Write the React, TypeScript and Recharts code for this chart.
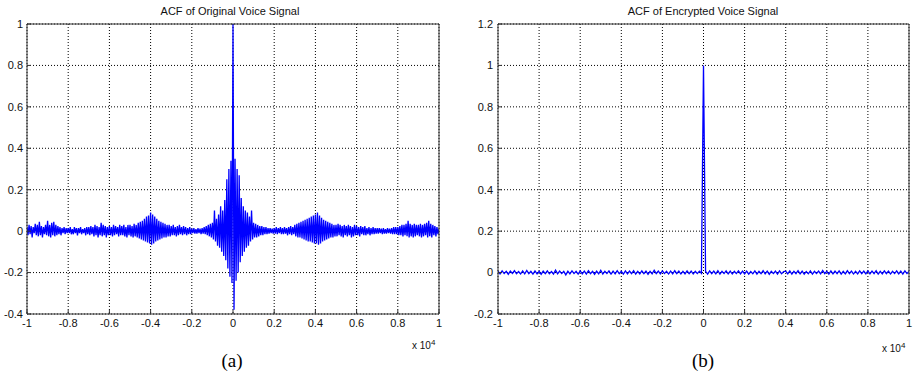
import { LineChart, Line, XAxis, YAxis, CartesianGrid } from "recharts";

// lag axis is in samples, labelled in units of 1e4
const lagTicks = [-10000, -8000, -6000, -4000, -2000, 0, 2000, 4000, 6000, 8000, 10000];
const leftYTicks = [-0.4, -0.2, 0, 0.2, 0.4, 0.6, 0.8, 1];
const rightYTicks = [-0.2, 0, 0.2, 0.4, 0.6, 0.8, 1, 1.2];

// ACF of original voice, one value every 50 lags from -10000 to 10000
const originalAcf = [
  0.02, -0.02, 0.03, -0.015, 0.025, -0.03, 0.02, -0.01, 0.035, -0.02, 0.03, -0.025, 0.045, -0.02, 0.025, -0.03, 0.02, -0.015, 0.03, -0.02,
  0.05, -0.025, 0.03, -0.03, 0.04, -0.02, 0.045, -0.025, 0.03, -0.02, 0.025, -0.015, 0.02, -0.02, 0.015, -0.01, 0.02, -0.015, 0.015, -0.01,
  0.015, -0.01, 0.02, -0.015, 0.01, -0.015, 0.02, -0.01, 0.015, -0.02, 0.015, -0.01, 0.02, -0.015, 0.01, -0.01, 0.015, -0.02, 0.02, -0.015,
  0.02, -0.02, 0.025, -0.015, 0.02, -0.025, 0.03, -0.02, 0.025, -0.03, 0.02, -0.02, 0.04, -0.025, 0.03, -0.02, 0.025, -0.03, 0.02, -0.02,
  0.025, -0.02, 0.02, -0.025, 0.03, -0.02, 0.025, -0.015, 0.02, -0.025, 0.03, -0.02, 0.025, -0.02, 0.03, -0.025, 0.02, -0.03, 0.03, -0.02,
  0.03, -0.025, 0.025, -0.03, 0.035, -0.025, 0.03, -0.03, 0.04, -0.035, 0.045, -0.04, 0.05, -0.045, 0.06, -0.05, 0.07, -0.055, 0.075, -0.06,
  0.09, -0.065, 0.08, -0.06, 0.07, -0.05, 0.06, -0.045, 0.05, -0.04, 0.045, -0.035, 0.04, -0.03, 0.035, -0.03, 0.03, -0.025, 0.03, -0.025,
  0.025, -0.02, 0.03, -0.02, 0.02, -0.025, 0.025, -0.02, 0.03, -0.015, 0.02, -0.02, 0.025, -0.015, 0.02, -0.02, 0.015, -0.015, 0.02, -0.015,
  0.012, -0.01, 0.015, -0.012, 0.01, -0.012, 0.015, -0.01, 0.012, -0.015, 0.015, -0.012, 0.02, -0.015, 0.025, -0.02, 0.03, -0.025, 0.035, -0.03,
  0.04, -0.04, 0.1, -0.05, 0.06, -0.07, 0.08, -0.08, 0.12, -0.1, 0.1, -0.12, 0.15, -0.14, 0.25, -0.18, 0.3, -0.22, 0.34, -0.25,
  1.0, -0.38, 0.35, -0.24, 0.3, -0.2, 0.27, -0.15, 0.16, -0.12, 0.12, -0.1, 0.1, -0.08, 0.09, -0.07, 0.07, -0.05, 0.1, -0.04,
  0.04, -0.03, 0.035, -0.03, 0.03, -0.025, 0.025, -0.02, 0.025, -0.02, 0.02, -0.015, 0.02, -0.015, 0.015, -0.012, 0.015, -0.01, 0.012, -0.012,
  0.015, -0.012, 0.02, -0.015, 0.015, -0.01, 0.02, -0.015, 0.015, -0.015, 0.02, -0.012, 0.015, -0.02, 0.02, -0.015, 0.025, -0.02, 0.02, -0.015,
  0.03, -0.025, 0.035, -0.03, 0.04, -0.03, 0.045, -0.035, 0.05, -0.04, 0.055, -0.045, 0.06, -0.05, 0.065, -0.05, 0.07, -0.055, 0.075, -0.06,
  0.08, -0.06, 0.09, -0.065, 0.075, -0.06, 0.065, -0.05, 0.055, -0.045, 0.05, -0.04, 0.045, -0.035, 0.04, -0.03, 0.035, -0.03, 0.03, -0.025,
  0.03, -0.025, 0.035, -0.02, 0.03, -0.025, 0.025, -0.03, 0.03, -0.02, 0.025, -0.025, 0.03, -0.02, 0.025, -0.03, 0.02, -0.025, 0.03, -0.02,
  0.025, -0.02, 0.02, -0.025, 0.025, -0.015, 0.02, -0.02, 0.025, -0.02, 0.015, -0.015, 0.02, -0.02, 0.015, -0.015, 0.02, -0.015, 0.015, -0.012,
  0.015, -0.012, 0.015, -0.01, 0.012, -0.015, 0.015, -0.012, 0.01, -0.012, 0.015, -0.01, 0.012, -0.012, 0.015, -0.015, 0.02, -0.015, 0.02, -0.015,
  0.02, -0.02, 0.025, -0.02, 0.03, -0.025, 0.03, -0.02, 0.035, -0.025, 0.05, -0.03, 0.035, -0.025, 0.03, -0.03, 0.035, -0.025, 0.03, -0.02,
  0.03, -0.025, 0.035, -0.03, 0.03, -0.025, 0.035, -0.02, 0.04, -0.03, 0.05, -0.025, 0.035, -0.03, 0.03, -0.02, 0.025, -0.025, 0.02, -0.015,
  0.01,
];

// ACF of encrypted voice, one value every 100 lags from -10000 to 10000
const encryptedAcf = [
  0.007, -0.006, 0.008, -0.005, 0.006, -0.008, 0.007, -0.004, 0.009, -0.006, 0.005, -0.007, 0.008, -0.006, 0.01, -0.005, 0.006, -0.007, 0.008, -0.006,
  0.006, -0.008, 0.007, -0.005, 0.008, -0.006, 0.005, -0.007, 0.012, -0.006, 0.007, -0.005, 0.006, -0.011, 0.007, -0.006, 0.008, -0.005, 0.006, -0.007,
  0.008, -0.006, 0.007, -0.007, 0.009, -0.005, 0.006, -0.008, 0.007, -0.006, 0.011, -0.007, 0.006, -0.005, 0.008, -0.007, 0.007, -0.006, 0.009, -0.005,
  0.006, -0.007, 0.008, -0.006, 0.007, -0.005, 0.009, -0.007, 0.006, -0.006, 0.008, -0.005, 0.007, -0.008, 0.006, -0.006, 0.011, -0.005, 0.007, -0.006,
  0.008, -0.005, 0.006, -0.007, 0.007, -0.006, 0.009, -0.005, 0.007, -0.007, 0.006, -0.006, 0.008, -0.005, 0.007, -0.007, 0.006, -0.005, 0.007, -0.004,
  1.0, 0.006, -0.007, 0.008, -0.005, 0.007, -0.006, 0.009, -0.007, 0.006, -0.005, 0.008, -0.006, 0.007, -0.007, 0.006, -0.005, 0.008, -0.006, 0.007,
  -0.006, 0.007, -0.008, 0.005, -0.006, 0.008, -0.007, 0.006, -0.005, 0.009, -0.006, 0.007, -0.008, 0.006, -0.005, 0.007, -0.007, 0.008, -0.006, 0.005,
  0.007, -0.006, 0.008, -0.007, 0.006, -0.005, 0.009, -0.006, 0.007, -0.008, 0.005, -0.006, 0.008, -0.007, 0.006, -0.005, 0.007, -0.006, 0.01, -0.005,
  0.006, -0.007, 0.008, -0.006, 0.007, -0.005, 0.008, -0.007, 0.006, -0.006, 0.009, -0.005, 0.007, -0.007, 0.006, -0.006, 0.008, -0.005, 0.007, -0.006,
  0.008, -0.006, 0.007, -0.005, 0.009, -0.007, 0.006, -0.006, 0.008, -0.005, 0.007, -0.007, 0.006, -0.005, 0.008, -0.006, 0.007, -0.007, 0.008, -0.005,
  0.006,
];

const originalData = originalAcf.map((v, i) => ({ lag: -10000 + i * 50, acf: v }));
const encryptedData = encryptedAcf.map((v, i) => ({ lag: -10000 + i * 100, acf: v }));

const FONT = "'Liberation Sans', Arial, Helvetica, sans-serif";
const AXIS = "#333";
const tickStyle = { fontSize: 11, fill: "#111", fontFamily: FONT };

function AcfPlot({ data, yTicks, yLeft, rightPad, lineWidth }: any) {
  return (
    <LineChart
      width={rightPad.width}
      height={340}
      data={data}
      margin={{ top: 4, right: rightPad.margin, left: 0, bottom: 0 }}
    >
      <CartesianGrid stroke="#000" strokeDasharray="1 2" strokeWidth={1} />
      <XAxis
        dataKey="lag"
        type="number"
        domain={[-10000, 10000]}
        ticks={lagTicks}
        interval={0}
        tickFormatter={(v) => String(v / 10000)}
        tick={tickStyle}
        tickSize={-4}
        tickMargin={9}
        height={26}
        stroke={AXIS}
        allowDataOverflow
      />
      <XAxis
        xAxisId="top"
        orientation="top"
        dataKey="lag"
        type="number"
        domain={[-10000, 10000]}
        ticks={lagTicks}
        interval={0}
        tick={false}
        tickSize={-4}
        height={20}
        stroke={AXIS}
      />
      <YAxis
        type="number"
        domain={[yTicks[0], yTicks[yTicks.length - 1]]}
        ticks={yTicks}
        interval={0}
        tick={tickStyle}
        tickSize={-4}
        tickMargin={yLeft.margin}
        width={yLeft.width}
        stroke={AXIS}
        allowDataOverflow
      />
      <YAxis
        yAxisId="right"
        orientation="right"
        type="number"
        domain={[yTicks[0], yTicks[yTicks.length - 1]]}
        ticks={yTicks}
        interval={0}
        tick={false}
        tickSize={-4}
        width={rightPad.axis}
        stroke={AXIS}
      />
      <Line
        type="linear"
        dataKey="acf"
        stroke="#0000ff"
        strokeWidth={lineWidth}
        dot={false}
        isAnimationActive={false}
      />
    </LineChart>
  );
}

const titleStyle: any = {
  position: "absolute",
  top: 5,
  fontFamily: FONT,
  fontSize: 11,
  color: "#111",
  textAlign: "center",
  whiteSpace: "nowrap",
};

const expStyle: any = {
  position: "absolute",
  fontFamily: FONT,
  fontSize: 10,
  color: "#111",
  whiteSpace: "nowrap",
};

const capStyle: any = {
  position: "absolute",
  top: 350,
  fontFamily: "'Liberation Serif', 'Times New Roman', serif",
  fontSize: 19,
  color: "#000",
  textAlign: "center",
  width: 60,
};

export default function App() {
  return (
    <div style={{ position: "absolute", left: 0, top: 0, width: 915, height: 385, background: "#fff", overflow: "hidden" }}>
      <div style={{ position: "absolute", left: 0, top: 0 }}>
        <AcfPlot
          data={originalData}
          yTicks={leftYTicks}
          yLeft={{ width: 27, margin: 8 }}
          rightPad={{ width: 460, margin: 11, axis: 10 }}
          lineWidth={1.3}
        />
      </div>
      <div style={{ position: "absolute", left: 460, top: 0 }}>
        <AcfPlot
          data={encryptedData}
          yTicks={rightYTicks}
          yLeft={{ width: 38, margin: 9 }}
          rightPad={{ width: 455, margin: 0, axis: 6 }}
          lineWidth={1.3}
        />
      </div>

      <div style={{ ...titleStyle, left: 130, width: 200 }}>ACF of Original Voice Signal</div>
      <div style={{ ...titleStyle, left: 603, width: 200 }}>ACF of Encrypted Voice Signal</div>

      <div style={{ ...expStyle, left: 412, top: 338 }}>
        x 10<sup style={{ fontSize: 8 }}>4</sup>
      </div>
      <div style={{ ...expStyle, left: 882, top: 341 }}>
        x 10<sup style={{ fontSize: 8 }}>4</sup>
      </div>

      <div style={{ ...capStyle, left: 202 }}>(a)</div>
      <div style={{ ...capStyle, left: 673 }}>(b)</div>
    </div>
  );
}
